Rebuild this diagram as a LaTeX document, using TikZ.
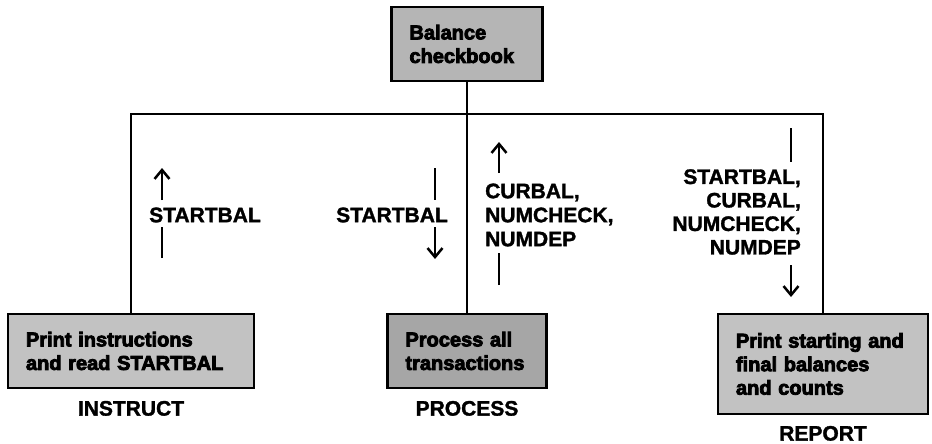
\documentclass[tikz,border=0pt]{standalone}
\usepackage{fontspec}
\setmainfont{Liberation Sans}
\newfontfamily\boxfont{Liberation Sans Bold}[FakeBold=4]
\newfontfamily\lblfont{Liberation Sans Bold}[FakeBold=1.5]
\usetikzlibrary{arrows.meta,calc}
\definecolor{boxlight}{gray}{0.76}
\definecolor{boxmid}{gray}{0.71}
\definecolor{boxdark}{gray}{0.65}
\begin{document}
\begin{tikzpicture}[x=1pt,y=-1pt,
  box/.style={draw=black, line width=2.8pt, inner xsep=18pt, inner ysep=0pt, align=left,
    font=\fontsize{20}{23.5}\boxfont},
  lbl/.style={font=\fontsize{21}{24}\lblfont, inner sep=0pt},
  conn/.style={line width=2.5pt},
  arr/.style={line width=2.5pt, -{Straight Barb[length=9pt,width=15pt,line width=2.5pt]}}]
\useasboundingbox (0,0) rectangle (932,444);

% boxes
\node[box, fill=boxmid, text width=115pt, minimum width=151pt, minimum height=74pt] (top) at (467,44) {Balance\\checkbook};
\node[box, fill=boxlight, text width=210pt, minimum width=246pt, minimum height=74pt] (left) at (131,351) {Print instructions\\and read STARTBAL};
\node[box, fill=boxdark, text width=123pt, minimum width=159pt, minimum height=74pt] (mid) at (467,351) {Process all\\transactions};
\node[box, fill=boxlight, text width=174pt, minimum width=210pt, minimum height=100pt] (right) at (823,364) {Print starting and\\final balances\\and counts};

% module names
\node[lbl] (instructlbl) at ($(left.south)+(0,19)$) {INSTRUCT};
\node[lbl] (processlbl) at ($(mid.south)+(0,19)$) {PROCESS};
\node[lbl] (reportlbl) at ($(right.south)+(0,18)$) {REPORT};

% hierarchy connectors
\coordinate (hl) at (0,114);
\draw[conn] (top.south) -- (mid.north);
\draw[conn] (left.north) -- (left.north |- hl) -- (right.north |- hl) -- (right.north);

% data flow labels
\node[lbl] (f1) at (205,215) {STARTBAL};
\node[lbl] (f2) at (392,215) {STARTBAL};
\node[lbl, align=left, anchor=west] (f3) at (485,215) {CURBAL,\\NUMCHECK,\\NUMDEP};
\node[lbl, align=right, anchor=east, font=\fontsize{21}{23.5}\lblfont] (f4) at (801,212) {STARTBAL,\\CURBAL,\\NUMCHECK,\\NUMDEP};

% flow 1 (up)
\coordinate (f1a) at (162,258); \coordinate (f1b) at (162,227);
\coordinate (f1c) at (162,200); \coordinate (f1d) at (162,168);
\draw[conn] (f1a) -- (f1b);
\draw[arr] (f1c) -- (f1d);
% flow 2 (down)
\coordinate (f2a) at (435,168); \coordinate (f2b) at (435,200);
\coordinate (f2c) at (435,227); \coordinate (f2d) at (435,259);
\draw[conn] (f2a) -- (f2b);
\draw[arr] (f2c) -- (f2d);
% flow 3 (up)
\coordinate (f3a) at (499,285); \coordinate (f3b) at (499,253);
\coordinate (f3c) at (499,173); \coordinate (f3d) at (499,142);
\draw[conn] (f3a) -- (f3b);
\draw[arr] (f3c) -- (f3d);
% flow 4 (down)
\coordinate (f4a) at (791,128); \coordinate (f4b) at (791,162);
\coordinate (f4c) at (791,265); \coordinate (f4d) at (791,297);
\draw[conn] (f4a) -- (f4b);
\draw[arr] (f4c) -- (f4d);
\end{tikzpicture}
\end{document}
